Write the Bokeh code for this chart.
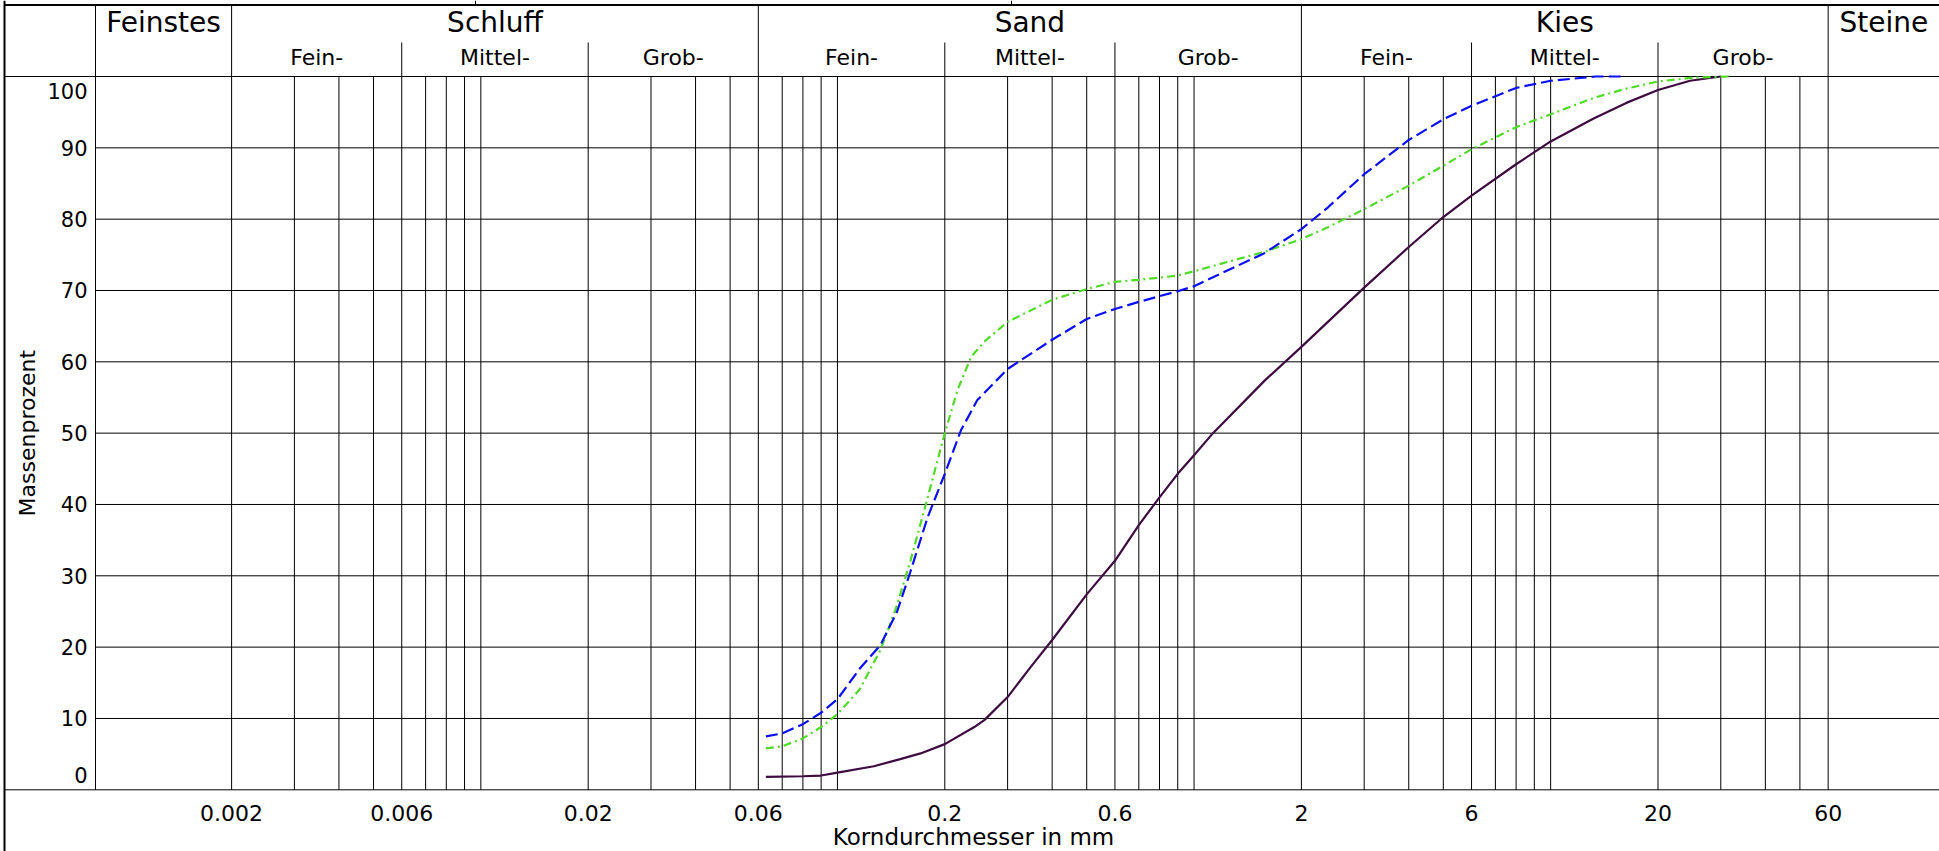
import math
from bokeh.plotting import figure
from bokeh.models import Range1d, ColumnDataSource
from bokeh.embed import file_html
from bokeh.resources import INLINE
from bokeh.core.properties import value

# ---------------- data ----------------
blue_size = [0.063, 0.07, 0.08, 0.09, 0.1, 0.1155, 0.132, 0.147, 0.160, 0.179, 0.2,
             0.222, 0.2465, 0.3, 0.4, 0.5, 0.6, 0.7, 0.8, 0.9, 1.0, 1.24, 1.57,
             2.0, 2.38, 3, 4, 5, 6, 8, 10, 13.4, 16.0]
blue_pct = [7.5, 7.9, 9.2, 10.8, 12.7, 17.0, 20.3, 25.0, 30.5, 38.2, 44.3,
            50.4, 54.6, 59.0, 63.1, 66.0, 67.4, 68.4, 69.2, 69.9, 70.6, 72.8, 75.2,
            78.6, 81.7, 86.3, 91.1, 94.0, 95.9, 98.4, 99.4, 100, 100]

green_size = [0.063, 0.07, 0.08, 0.09, 0.1, 0.1155, 0.132, 0.146, 0.160, 0.176, 0.2,
              0.217, 0.237, 0.259, 0.3, 0.4, 0.5, 0.6, 0.7, 0.8, 0.9, 1.0, 1.24,
              1.57, 2.0, 2.38, 3, 4, 5, 6, 8, 10, 13.2, 16.3, 20, 24.6, 31.6]
green_pct = [5.8, 6.1, 7.2, 8.8, 10.6, 14.1, 19.6, 25.5, 32.0, 39.6, 50.0,
             56.0, 60.7, 62.9, 65.6, 68.7, 70.2, 71.2, 71.5, 71.8, 72.1, 72.7, 74.0,
             75.4, 77.2, 78.9, 81.4, 84.7, 87.5, 89.8, 92.9, 94.7, 97.0, 98.3, 99.3,
             99.8, 100]

purple_size = [0.063, 0.08, 0.09, 0.1, 0.1265, 0.15, 0.171, 0.2, 0.242, 0.2586, 0.3,
               0.348, 0.4, 0.5, 0.6, 0.7, 0.8, 0.9, 1.0, 1.13, 1.58, 2.0, 3, 4, 5,
               6, 8, 10, 13.2, 16.3, 20, 24.6, 30]
purple_pct = [1.8, 1.9, 2.0, 2.4, 3.3, 4.3, 5.1, 6.4, 8.8, 9.8, 13.0,
              17.2, 21.0, 27.4, 32.1, 37.1, 41.0, 44.3, 46.9, 50.0, 57.4, 62.1, 70.4,
              76.1, 80.3, 83.3, 87.7, 90.9, 94.1, 96.3, 98.1, 99.4, 100]

main_bounds = [0.002, 0.06, 2, 60]
main_labels = ["Feinstes", "Schluff", "Sand", "Kies", "Steine"]
sub_bounds = [0.006, 0.02, 0.2, 0.6, 6, 20]
sub_labels = ["Fein-", "Mittel-", "Grob-"] * 3
minor_lines = [0.003, 0.004, 0.005, 0.007, 0.008, 0.009, 0.01,
               0.03, 0.04, 0.05, 0.07, 0.08, 0.09, 0.1,
               0.3, 0.4, 0.5, 0.7, 0.8, 0.9, 1,
               3, 4, 5, 7, 8, 9, 10,
               30, 40, 50]
x_tick_values = [0.002, 0.006, 0.02, 0.06, 0.2, 0.6, 2, 6, 20, 60]
x_tick_labels = ["0.002", "0.006", "0.02", "0.06", "0.2", "0.6", "2", "6", "20", "60"]
y_tick_values = [0, 10, 20, 30, 40, 50, 60, 70, 80, 90, 100]
y_tick_labels = [str(v) for v in y_tick_values]

# ---------------- layout (pixels on the canvas) ----------------
W, H = 1939, 851
PX_PER_DECADE = 356.6
X_2MM_PX = 1300.9
PX_PER_PCT = 7.133
Y_0_PX = 789.3
AXIS_LEFT_PX = 95
BORDER_LEFT_PX = 4
BORDER_TOP_PX = 4.5
SUBHEAD_TOP_PX = 42
MAIN_LABEL_PX = 22
SUB_LABEL_PX = 57
X_TITLE_PX = 973
Y_TITLE_PX = 27
TOP_ROW_DIVIDERS_PX = [475, 1011]

log_start = math.log10(2) - X_2MM_PX / PX_PER_DECADE
log_end = log_start + W / PX_PER_DECADE
y_top = Y_0_PX / PX_PER_PCT
y_bottom = -(H - Y_0_PX) / PX_PER_PCT


def x_at(px):
    return 10 ** (log_start + px / PX_PER_DECADE)


def y_at(px):
    return y_top - px / PX_PER_PCT


x_start, x_end = x_at(0), x_at(W)
axis_left = x_at(AXIS_LEFT_PX)
border_left = x_at(BORDER_LEFT_PX)
border_top = y_at(BORDER_TOP_PX)

p = figure(width=W, height=H, x_axis_type="log",
           x_range=Range1d(x_start, x_end), y_range=Range1d(y_bottom, y_top),
           output_backend="svg", toolbar_location=None,
           x_axis_location=None, y_axis_location=None, min_border=0,
           outline_line_color=None, background_fill_color="white",
           border_fill_color="white")
p.grid.visible = False

FONT = value("DejaVu Sans")
LC = "#000000"

# vertical lines
x0, y0, x1, y1 = [], [], [], []
for xv in [axis_left] + main_bounds:
    x0.append(xv); x1.append(xv); y0.append(border_top); y1.append(0)
for xv in sub_bounds:
    x0.append(xv); x1.append(xv); y0.append(y_at(SUBHEAD_TOP_PX)); y1.append(0)
for xv in minor_lines:
    x0.append(xv); x1.append(xv); y0.append(100); y1.append(0)
for px in TOP_ROW_DIVIDERS_PX:
    x0.append(x_at(px)); x1.append(x_at(px)); y0.append(y_top); y1.append(border_top)
# horizontal grid
for yv in y_tick_values:
    left = border_left if yv in (0, 100) else axis_left
    x0.append(left); x1.append(x_end); y0.append(yv); y1.append(yv)
p.segment(x0="x0", y0="y0", x1="x1", y1="y1", line_color=LC, line_width=1,
          source=ColumnDataSource(dict(x0=x0, y0=y0, x1=x1, y1=y1)))

# outer frame (left and top)
p.segment(x0=[border_left, border_left], y0=[y_top, border_top],
          x1=[border_left, x_end], y1=[y_bottom, border_top],
          line_color=LC, line_width=2)

# curves
p.line(purple_size, purple_pct, line_color="#3D0B40", line_width=2.2)
p.line(green_size, green_pct, line_color="#4FDA26", line_width=2.2,
       line_dash="8 4 2 4")
p.line(blue_size, blue_pct, line_color="#0A10F5", line_width=2.2,
       line_dash="12 5")

# header labels
mb = [axis_left] + main_bounds + [x_end]
main_x = [math.sqrt(mb[i] * mb[i + 1]) for i in range(len(main_labels))]
p.text(x=main_x, y=[y_at(MAIN_LABEL_PX)] * len(main_x), text=main_labels,
       text_align="center", text_baseline="middle", text_font=FONT,
       text_font_size="28px", text_color="#000000")

sb = [0.002, 0.006, 0.02, 0.06, 0.2, 0.6, 2, 6, 20, 60]
sub_x = [math.sqrt(sb[i] * sb[i + 1]) for i in range(len(sb) - 1)]
p.text(x=sub_x, y=[y_at(SUB_LABEL_PX)] * len(sub_x), text=sub_labels,
       text_align="center", text_baseline="middle", text_font=FONT,
       text_font_size="22px", text_color="#000000")

# x tick labels
p.text(x=x_tick_values, y=[0] * len(x_tick_values), text=x_tick_labels,
       y_offset=23, text_align="center", text_baseline="middle",
       text_font=FONT, text_font_size="22px", text_color="#000000")

# y tick labels
y_offs = [-15 if v == 0 else (14 if v == 100 else 0) for v in y_tick_values]
p.text(x=[axis_left] * len(y_tick_values), y=y_tick_values, text=y_tick_labels,
       x_offset=-8, y_offset=y_offs, text_align="right", text_baseline="middle",
       text_font=FONT, text_font_size="21px", text_color="#000000")

# axis titles
p.text(x=[x_start], y=[50], text=["Massenprozent"], x_offset=Y_TITLE_PX,
       angle=math.pi / 2, text_align="center", text_baseline="middle",
       text_font=FONT, text_font_size="22px", text_color="#000000")
p.text(x=[x_at(X_TITLE_PX)], y=[0], text=["Korndurchmesser in mm"],
       y_offset=47, text_align="center", text_baseline="middle", text_font=FONT,
       text_font_size="23px", text_color="#000000")

open("out.html", "w").write(file_html(p, INLINE))
